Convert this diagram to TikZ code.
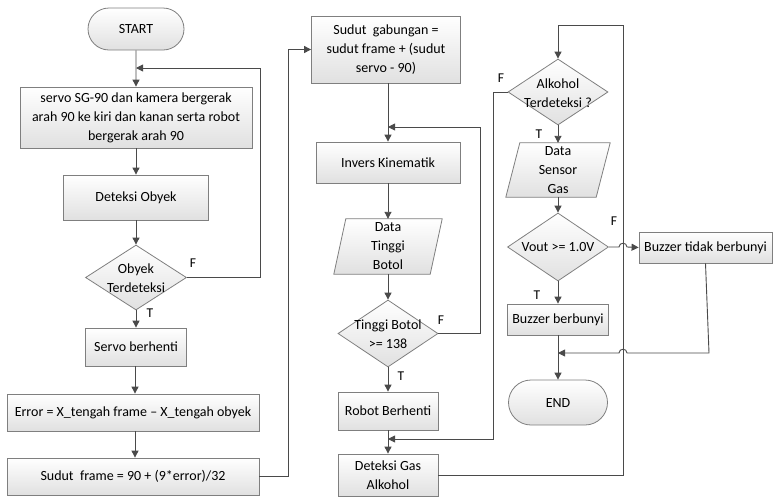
\documentclass[tikz,border=0pt]{standalone}
\usepackage{fontspec}
\setmainfont{Carlito}
\usetikzlibrary{shapes.geometric,shapes.misc,arrows.meta,calc}
\definecolor{lncol}{HTML}{4A4A4A}
\definecolor{bdcol}{HTML}{7F7F7F}
\begin{document}
\begin{tikzpicture}[x=1pt,y=-1pt,
  txt/.style={font=\fontsize{14}{19}\selectfont, align=center},
  shd/.style={top color=white, bottom color=black!12},
  proc/.style={txt, shd, draw=bdcol, line width=0.8pt, rectangle, inner sep=1pt},
  term/.style={txt, shd, draw=bdcol, line width=0.8pt, rounded rectangle, inner sep=1pt},
  dec/.style={shd, draw=bdcol, line width=0.8pt, diamond, inner sep=0pt},
  iobox/.style={txt, rectangle, inner sep=0pt},
  iopoly/.style={shd, draw=bdcol, line width=0.8pt},
  lbl/.style={font=\fontsize{13.5}{14}\selectfont, inner sep=0pt},
  conn/.style={draw=lncol, line width=0.9pt},
  arr/.style={conn, -{Triangle[length=7pt,width=7pt]}}
]
\useasboundingbox (0,0) rectangle (776,496);

% column 1
\node[term, minimum width=98, minimum height=42] (start) at (136,29) {START};
\node[proc, minimum width=232, minimum height=61] (b1) at (136,117.5) {servo SG-90 dan kamera bergerak\\arah 90 ke kiri dan kanan serta robot\\bergerak arah 90};
\node[proc, minimum width=145, minimum height=45] (b2) at (136,197.5) {Deteksi Obyek};
\node[dec, minimum width=101, minimum height=65] (d1) at (136,277.5) {};
\node[txt] (d1t) at (136,278) {Obyek\\Terdeteksi};
\node[proc, minimum width=101, minimum height=38] (b3) at (136,347) {Servo berhenti};
\node[proc, minimum width=252, minimum height=37] (b4) at (133,412.5) {Error = X\_tengah frame -- X\_tengah obyek};
\node[proc, minimum width=252, minimum height=37] (b5) at (133,476.5) {Sudut\ \ frame = 90 + (9*error)/32};

% column 2
\node[proc, minimum width=149, minimum height=67] (g) at (386,49.5) {Sudut\ \ gabungan =\\sudut frame + (sudut\\servo - 90)};
\node[proc, minimum width=144, minimum height=41] (ik) at (388,162.5) {Invers Kinematik};
\node[iobox, minimum width=108, minimum height=55] (dtbb) at (388,246.5) {};
\node[dec, minimum width=100, minimum height=67] (d2) at (388,333.5) {};
\node[txt] (d2t) at (388,334) {Tinggi Botol\\>= 138};
\node[proc, minimum width=100, minimum height=38] (rb) at (388,411) {Robot Berhenti};
\node[proc, minimum width=100, minimum height=42] (dg) at (388,475) {Deteksi Gas\\Alkohol};

% column 3
\node[dec, minimum width=100, minimum height=66] (d3) at (558,92) {};
\node[txt] (d3t) at (558,93) {Alkohol\\Terdeteksi ?};
\node[iobox, minimum width=104, minimum height=54] (dsgb) at (558,170) {};
\node[dec, minimum width=101, minimum height=68] (d4) at (558,247) {};
\node[txt] (d4t) at (558,247) {Vout >= 1.0V};
\node[proc, minimum width=101, minimum height=31] (bb) at (558,319.5) {Buzzer berbunyi};
\node[term, minimum width=101, minimum height=45] (end) at (558,402.5) {END};
\node[proc, minimum width=133, minimum height=31] (btb) at (705.5,247.5) {Buzzer tidak berbunyi};

% parallelograms
\path[iopoly] ([xshift=12pt]dtbb.north west) -- (dtbb.north east) -- ([xshift=-12pt]dtbb.south east) -- (dtbb.south west) -- cycle;
\path[iopoly] ([xshift=14pt]dsgb.north west) -- (dsgb.north east) -- ([xshift=-14pt]dsgb.south east) -- (dsgb.south west) -- cycle;
\node[txt] (dtbt) at (dtbb) {Data\\Tinggi\\Botol};
\node[txt] (dsgt) at (dsgb) {Data\\Sensor\\Gas};

% join points
\coordinate (m1) at (start.south |- 0,68);
\coordinate (m2) at (ik.north |- 0,127);
\coordinate (m3) at (dg.north |- 0,439);
\coordinate (m4) at (end.north |- 0,353);

% column 1 connectors
\draw[arr] (start) -- (b1);
\draw[arr] (b1) -- (b2);
\draw[arr] (b2) -- (d1);
\draw[arr] (d1) -- (b3);
\draw[arr] (b3.south -| 135,0) -- (b4.north -| 135,0);
\draw[arr] (b4.south -| 135,0) -- (b5.north -| 135,0);
\draw[arr] (d1.east) -- (260,277.5) |- (m1);
\draw[arr] (b5.east) -- (288,476.5) |- (g.west);

% column 2 connectors
\draw[arr] (g.south -| ik.north) -- (ik);
\draw[arr] (ik) -- (dtbb);
\draw[arr] (dtbb) -- (d2);
\draw[arr] (d2) -- (rb);
\draw[arr] (rb) -- (dg);
\draw[arr] (d2.east) -- (480,333.5) |- (m2);
\draw[arr] (d3.west) -- (493,92) |- (m3);
\draw[arr] (dg.east) -- (623,475) |- (558,25) -- (d3.north);

% column 3 connectors
\draw[arr] (d3) -- (dsgb);
\draw[arr] (dsgb) -- (d4);
\draw[arr] (d4) -- (bb);
\draw[arr] (bb) -- (end);
\draw[arr] (d4.east) -- (619,247) .. controls (619,242) and (627,242) .. (627,247) -- (btb.west);
\draw[arr] (btb.south) -- (709,353) -- (627,353) .. controls (627,348) and (619,348) .. (619,353) -- (m4);

% labels
\node[lbl] (f1) at (193,263) {F};
\node[lbl] (t1) at (150,313) {T};
\node[lbl] (f2) at (441,320) {F};
\node[lbl] (t2) at (401,376) {T};
\node[lbl] (f3) at (501,78) {F};
\node[lbl] (t3) at (539,134) {T};
\node[lbl] (f4) at (614,221) {F};
\node[lbl] (t4) at (537,295) {T};
\end{tikzpicture}
\end{document}
